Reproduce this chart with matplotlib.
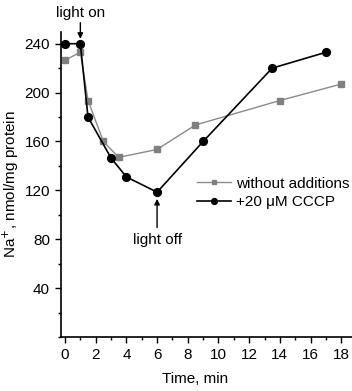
import matplotlib
matplotlib.use("Agg")
import matplotlib.pyplot as plt
from matplotlib.ticker import MultipleLocator

plt.rcParams['font.family'] = ['Liberation Sans', 'DejaVu Sans']

time_ctrl = [0, 1, 1.5, 2.5, 3.5, 6, 8.5, 14, 18]
na_ctrl = [226.5, 233, 193.5, 160, 147, 153.5, 173.5, 193.5, 207]
time_cccp = [0, 1, 1.5, 3, 4, 6, 9, 13.5, 17]
na_cccp = [240, 240, 180, 146.5, 131, 118.5, 160, 220, 233]
label_ctrl = "without additions"
label_cccp = "+20 \u03bcM CCCP"

FS = 11

fig = plt.figure(figsize=(3.52, 3.91), dpi=100)
ax = fig.add_axes([61/352, 1-337/391, (352-61)/352, (337-31.5)/391])

ax.plot(time_ctrl, na_ctrl, color='#8a8a8a', lw=1.0, marker='s', ms=4.8,
        mfc='#808080', mec='#808080', label=label_ctrl, zorder=2)
ax.plot(time_cccp, na_cccp, color='black', lw=1.2, marker='o', ms=5.6,
        mfc='black', mec='black', label=label_cccp, zorder=3)

ax.set_xlim(-0.26, 18.7)
ax.set_ylim(0, 250)
ax.xaxis.set_major_locator(MultipleLocator(2))
ax.xaxis.set_minor_locator(MultipleLocator(1))
ax.yaxis.set_minor_locator(MultipleLocator(20))
ax.set_yticks([40, 80, 120, 160, 200, 240])
for s in ['top', 'right']:
    ax.spines[s].set_visible(False)
for s in ['left', 'bottom']:
    ax.spines[s].set_linewidth(1.2)
ax.tick_params(which='major', direction='out', length=4.5, width=1.0,
               labelsize=FS, pad=3.5)
ax.tick_params(which='minor', direction='out', length=2.5, width=1.0)
ax.set_xlabel("Time, min", fontsize=FS, labelpad=10)
ax.xaxis.set_label_coords(0.46, -0.115)
ax.set_ylabel("Na$^{+}$, nmol/mg protein", fontsize=FS)
ax.yaxis.set_label_coords(-0.138, 0.5)
ax.patch.set_visible(False)

leg = ax.legend(loc='center left', bbox_to_anchor=(136/291, 1-(183+10-31.5)/305.5),
                frameon=False, fontsize=FS, handlelength=2.2,
                handletextpad=0.35, labelspacing=0.32, borderaxespad=0,
                borderpad=0, markerscale=0.75)

ax.annotate("light on", xy=(1, 244), xytext=(1, 259.5), ha='center',
            va='bottom', fontsize=FS, annotation_clip=False,
            arrowprops=dict(arrowstyle='-|>', color='black', lw=1.0,
                            mutation_scale=8, shrinkA=0, shrinkB=0))
ax.annotate("light off", xy=(6, 113), xytext=(6, 85), ha='center', va='top',
            fontsize=FS,
            arrowprops=dict(arrowstyle='-|>', color='black', lw=1.0,
                            mutation_scale=8, shrinkA=2, shrinkB=0))

fig.savefig("out.png", dpi=100)
